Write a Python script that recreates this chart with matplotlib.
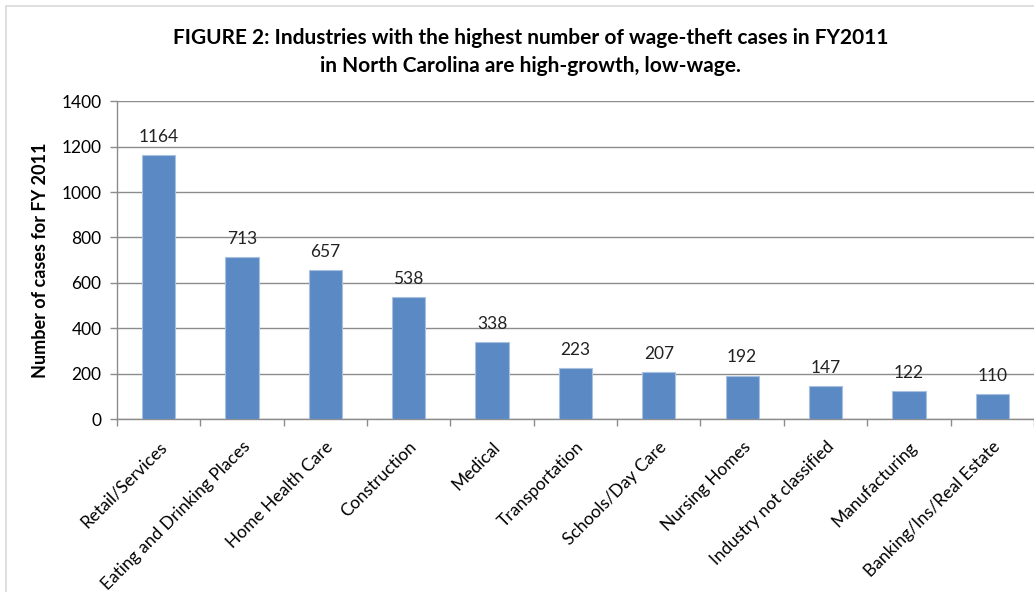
import matplotlib.pyplot as plt
from matplotlib.patches import Rectangle

industries = ['Retail/Services', 'Eating and Drinking Places', 'Home Health Care',
              'Construction', 'Medical', 'Transportation', 'Schools/Day Care',
              'Nursing Homes', 'Industry not classified', 'Manufacturing',
              'Banking/Ins/Real Estate']
cases = [1164, 713, 657, 538, 338, 223, 207, 192, 147, 122, 110]

plt.rcParams['font.family'] = ['Lato', 'DejaVu Sans']

fig = plt.figure(figsize=(10.34, 5.92), dpi=100)
fig.patches.append(Rectangle((0.006, -0.01), 1.1, 1.0, transform=fig.transFigure,
                             fill=False, edgecolor='#d9d9d9', linewidth=1.2))

ax = fig.add_axes([0.113, 0.292, 0.887, 0.537])
x = list(range(len(industries)))
ax.bar(x, cases, width=0.4, color='#5b89c3', edgecolor='#a9c1e0', linewidth=0.8, zorder=3)

for xi, v in zip(x, cases):
    ax.text(xi, v + 45, str(v), ha='center', va='bottom', fontsize=12.5, color='#222222')

ax.set_xlim(-0.5, len(industries) - 0.5)
ax.set_ylim(0, 1400)
ax.set_yticks(range(0, 1401, 200))
ax.yaxis.grid(True, color='#8c8c8c', linewidth=1.0, zorder=0)
ax.set_axisbelow(True)

ax.set_xticks(x)
ax.set_xticklabels(industries, rotation=45, ha='right', va='top',
                   rotation_mode='anchor', fontsize=12.5)
ax.tick_params(axis='x', length=0, pad=14)
ax.set_xticks([i - 0.5 for i in range(len(industries) + 1)], minor=True)
ax.tick_params(axis='x', which='minor', length=5, color='#8c8c8c', width=1.0)
ax.tick_params(axis='y', length=5, color='#8c8c8c', width=1.0, labelsize=12.5, pad=6)

for s in ['top', 'right']:
    ax.spines[s].set_visible(False)
for s in ['left', 'bottom']:
    ax.spines[s].set_color('#8c8c8c')
    ax.spines[s].set_linewidth(1.0)

ax.set_ylabel('Number of cases for FY 2011', fontsize=13, fontweight='bold', labelpad=9)

fig.text(0.513, 0.912, 'FIGURE 2: Industries with the highest number of wage-theft cases in FY2011\n'
         'in North Carolina are high-growth, low-wage.',
         ha='center', va='center', fontsize=15, fontweight='bold', linespacing=1.5)

fig.savefig('out.png', dpi=100)
